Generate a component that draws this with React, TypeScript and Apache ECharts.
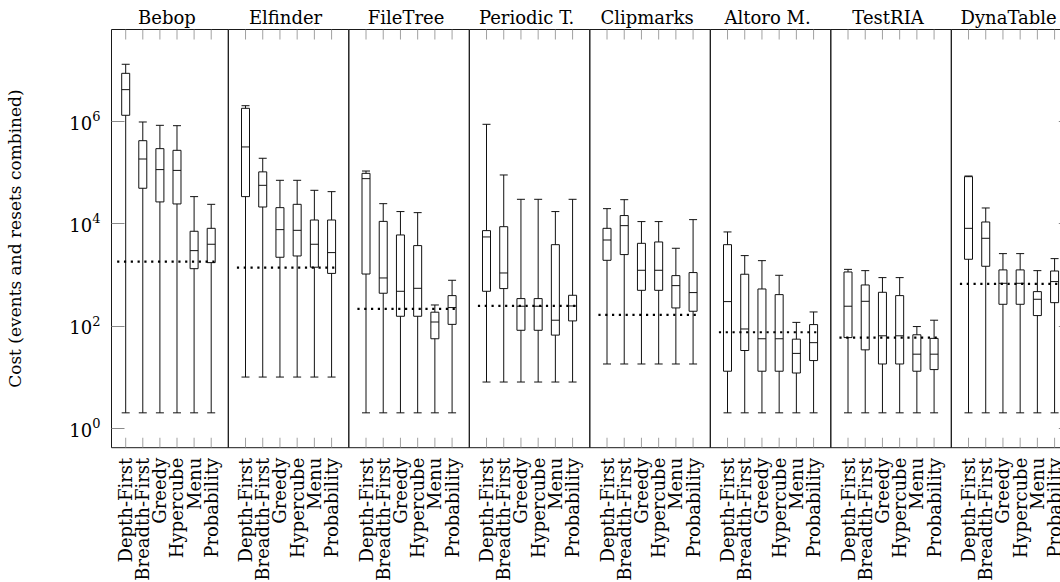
import React, { useEffect, useRef } from "react";
import * as echarts from "echarts";

const panels = ["Bebop", "Elfinder", "FileTree", "Periodic T.", "Clipmarks", "Altoro M.", "TestRIA", "DynaTable"];
const strategies = ["Depth-First", "Breadth-First", "Greedy", "Hypercube", "Menu", "Probability"];

// each row: [lower whisker, Q1, median, Q3, upper whisker]
const bebop = [
  [2, 1.3e6, 4.12e6, 8.59e6, 1.29e7],
  [2, 4.88e4, 1.82e5, 4.15e5, 9.62e5],
  [2, 2.64e4, 1.13e5, 2.9e5, 8.28e5],
  [2, 2.41e4, 1.09e5, 2.69e5, 8.15e5],
  [2, 1310, 2950, 7050, 3.35e4],
  [2, 1720, 3930, 8050, 2.37e4],
];
const elfinder = [
  [10, 3.35e4, 3.13e5, 1.78e6, 2.0e6],
  [10, 2.1e4, 5.57e4, 1.02e5, 1.88e5],
  [10, 2190, 7590, 2.04e4, 6.98e4],
  [10, 2320, 7360, 2.37e4, 6.98e4],
  [10, 1400, 3930, 1.17e4, 4.45e4],
  [10, 1060, 2700, 1.17e4, 4.19e4],
];
const fileTree = [
  [2, 1030, 7.52e4, 9.55e4, 1.06e5],
  [2, 434, 863, 1.1e4, 2.44e4],
  [2, 154, 474, 5970, 1.71e4],
  [2, 154, 542, 3700, 1.63e4],
  [2, 56, 119, 185, 256],
  [2, 107, 228, 390, 778],
];
const periodicT = [
  [8, 474, 5460, 7260, 8.67e5],
  [8, 535, 1080, 8670, 8.87e4],
  [8, 82, 242, 341, 2.97e4],
  [8, 82, 242, 341, 2.97e4],
  [8, 66, 129, 3860, 1.71e4],
  [8, 125, 245, 396, 2.97e4],
];
const clipmarks = [
  [18, 1910, 4760, 8050, 1.95e4],
  [18, 2470, 9080, 1.43e4, 2.92e4],
  [18, 495, 1220, 4100, 1.09e4],
  [18, 495, 1220, 4360, 1.09e4],
  [18, 224, 611, 959, 3280],
  [18, 193, 447, 1100, 1.19e4],
];
const altoroM = [
  [2, 13, 298, 3860, 6840],
  [2, 33, 87, 1020, 2360],
  [2, 13, 56, 526, 1880],
  [2, 13, 56, 408, 973],
  [2, 12, 29, 55, 117],
  [2, 21, 47, 106, 187],
];
const testRIA = [
  [2, 59, 242, 1130, 1270],
  [2, 34, 302, 630, 1200],
  [2, 18, 64, 453, 877],
  [2, 18, 64, 390, 877],
  [2, 13, 28, 67, 97],
  [2, 14, 28, 57, 129],
];
const dynaTable = [
  [2, 2000, 8050, 8.22e4, 8.47e4],
  [2, 1460, 5140, 1.07e4, 2.01e4],
  [2, 264, 679, 1240, 2580],
  [2, 264, 679, 1240, 2580],
  [2, 159, 331, 467, 1200],
  [2, 284, 733, 1180, 2060],
];
const referenceCost = [1800, 1370, 214, 245, 164, 75, 59, 659];
const yTickExponents = [0, 2, 4, 6];

const panelData = [bebop, elfinder, fileTree, periodicT, clipmarks, altoroM, testRIA, dynaTable];

const FONT = "'DejaVu Serif', 'Liberation Serif', serif";
const gridLefts = [111.5, 228.3, 348.8, 469.3, 589.8, 710.3, 830.8, 951.3];
const gridWidths = [116.8, 120.5, 120.5, 120.5, 120.5, 120.5, 120.5, 120.5];
const xMins = [0.17, 0, 0, 0, 0, 0, 0, 0];
const X_MAX = 7;
const GRID_TOP = 29.5;
const GRID_H = 418.2;
const Y_MIN = -0.38;
const Y_MAX = 7.79;
const xTicks = [1, 2, 3, 4, 5, 6];
const TICK_COLOR = "#8a8a8a";

function strategyLabel(v: number) {
  const k = Math.round(v);
  if (Math.abs(v - k) > 1e-6 || k < 1 || k > strategies.length) return "";
  return strategies[k - 1];
}

function buildOption() {
  const grid: any[] = [];
  const xAxis: any[] = [];
  const yAxis: any[] = [];
  const series: any[] = [];
  const tickStyle = { color: TICK_COLOR, width: 1 };
  panels.forEach((name, i) => {
    grid.push({
      left: gridLefts[i],
      top: GRID_TOP,
      width: gridWidths[i],
      height: GRID_H,
      show: true,
      borderColor: "#1a1a1a",
      borderWidth: 1,
      backgroundColor: "transparent",
      containLabel: false,
      outerBoundsMode: "none",
    });
    const base = {
      type: "value",
      gridIndex: i,
      min: xMins[i],
      max: X_MAX,
      axisLine: { show: false, onZero: false },
      splitLine: { show: false },
    };
    // bottom axis: carries the series and the strategy labels
    xAxis.push({
      ...base,
      position: "bottom",
      axisTick: { show: false },
      axisLabel: {
        show: true,
        customValues: [xMins[i], ...xTicks, X_MAX],
        rotate: 90,
        margin: 10,
        formatter: strategyLabel,
        fontFamily: FONT,
        fontSize: 18,
        color: "#000",
      },
    });
    // top axis: panel title
    xAxis.push({
      ...base,
      position: "top",
      axisTick: { show: false },
      axisLabel: { show: false },
      name,
      nameLocation: "middle",
      nameGap: 3,
      nameTextStyle: { fontFamily: FONT, fontSize: 18, color: "#000", padding: [0, 6, 0, 0] },
    });
    const yAx: any = {
      type: "value",
      gridIndex: i,
      min: Y_MIN,
      max: Y_MAX,
      show: i === 0 || i === panels.length - 1,
      position: i === panels.length - 1 ? "right" : "left",
      axisLine: { show: false, onZero: false },
      splitLine: { show: false },
      axisTick: { show: true, inside: true, length: 13, customValues: yTickExponents, lineStyle: tickStyle },
      axisLabel: {
        show: i === 0,
        customValues: yTickExponents,
        showMinLabel: true,
        showMaxLabel: true,
        margin: 11,
        formatter: (v: number) => `{b|10}{s|${Math.round(v)}}`,
        rich: {
          b: { fontFamily: FONT, fontSize: 18, color: "#000", lineHeight: 22, verticalAlign: "bottom" },
          s: { fontFamily: FONT, fontSize: 13, color: "#000", lineHeight: 13, verticalAlign: "top" },
        },
      },
    };
    if (i === 0) {
      yAx.name = "Cost (events and resets combined)";
      yAx.nameLocation = "middle";
      yAx.nameGap = 88;
      yAx.nameTextStyle = { fontFamily: FONT, fontSize: 17, color: "#000" };
    }
    yAxis.push(yAx);

    // inward x tick marks along the bottom and top frame, placed through the axis scales
    series.push({
      type: "scatter",
      xAxisIndex: 2 * i,
      yAxisIndex: i,
      silent: true,
      clip: false,
      symbol: "rect",
      symbolSize: [1, 10],
      symbolOffset: [0, -5],
      itemStyle: { color: TICK_COLOR },
      data: xTicks.map((k) => [k, Y_MIN]),
    });
    series.push({
      type: "scatter",
      xAxisIndex: 2 * i,
      yAxisIndex: i,
      silent: true,
      clip: false,
      symbol: "rect",
      symbolSize: [1, 10],
      symbolOffset: [0, 5],
      itemStyle: { color: TICK_COLOR },
      data: xTicks.map((k) => [k, Y_MAX]),
    });

    const rows = panelData[i];
    series.push({
      type: "boxplot",
      xAxisIndex: 2 * i,
      yAxisIndex: i,
      boxWidth: [8, 8],
      silent: true,
      itemStyle: { color: "transparent", borderColor: "#111", borderWidth: 1 },
      emphasis: { disabled: true },
      data: rows.map((r, j) => [j + 1, ...r.map((v) => Math.log10(v))]),
    });
    const ref = Math.log10(referenceCost[i]);
    series.push({
      type: "line",
      xAxisIndex: 2 * i,
      yAxisIndex: i,
      silent: true,
      symbol: "none",
      lineStyle: { color: "#000", width: 2.2, type: [2.2, 4.6], cap: "butt" },
      data: [
        [0.5, ref],
        [6.3, ref],
      ],
    });
  });
  return {
    animation: false,
    backgroundColor: "#fff",
    textStyle: { fontFamily: FONT },
    grid,
    xAxis,
    yAxis,
    series,
  };
}

export default function App() {
  const ref = useRef<HTMLDivElement>(null);
  useEffect(() => {
    if (!ref.current) return;
    const chart = echarts.init(ref.current, undefined, { renderer: "svg" });
    chart.setOption(buildOption() as any);
    return () => chart.dispose();
  }, []);
  return <div ref={ref} style={{ position: "fixed", left: 0, top: 0, width: 1060, height: 582 }} />;
}
